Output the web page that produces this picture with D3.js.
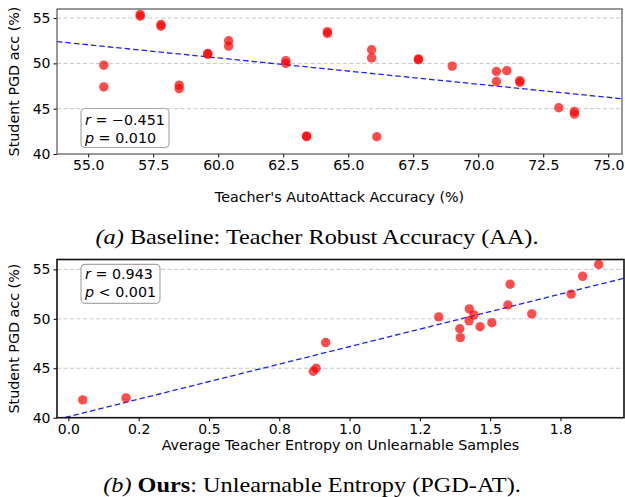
<!DOCTYPE html>
<html>
<head>
<meta charset="utf-8">
<script src="https://cdn.jsdelivr.net/npm/d3@7"></script>
<style>
  body { margin: 0; background: #fff; }
  svg text { font-family: "DejaVu Sans", sans-serif; }
</style>
</head>
<body>
<div id="chart"></div>
<script>
// panel (a): teacher AA accuracy vs student PGD acc
const aaX = [55.6, 55.6, 57.0, 57.0, 57.8, 57.8, 58.5, 58.5, 59.6, 59.6, 60.4, 60.4,
             62.6, 62.6, 63.4, 63.4, 64.2, 64.2, 65.9, 65.9, 66.1, 67.7, 67.7, 69.0,
             70.7, 70.7, 71.1, 71.6, 71.6, 73.1, 73.7, 73.7]
const aaY = [49.8, 47.4, 55.4, 55.2, 54.3, 54.1, 47.6, 47.2, 51.0, 51.1, 52.5, 51.9,
             50.3, 50.0, 42.0, 41.9, 53.5, 53.3, 51.5, 50.6, 41.9, 50.5, 50.4, 49.7,
             49.1, 48.0, 49.2, 48.1, 47.9, 45.1, 44.7, 44.4]
const aaXTicks = [55, 57.5, 60, 62.5, 65, 67.5, 70, 72.5, 75]
const aaXTickLabels = ['55.0', '57.5', '60.0', '62.5', '65.0', '67.5', '70.0', '72.5', '75.0']

// panel (b): unlearnable entropy vs student PGD acc
const entX = [0.051, 0.205, 0.871, 0.881, 0.915, 1.317, 1.392, 1.394, 1.426, 1.425,
              1.442, 1.464, 1.506, 1.563, 1.571, 1.648, 1.788, 1.829, 1.886]
const entY = [41.8, 42.0, 44.7, 45.0, 47.6, 50.2, 49.0, 48.1, 51.0, 49.8,
              50.4, 49.2, 49.6, 51.4, 53.5, 50.5, 52.5, 54.3, 55.5]
const entXTicks = [0, 0.25, 0.5, 0.75, 1.0, 1.25, 1.5, 1.75]
const entXTickLabels = ['0.0', '0.2', '0.5', '0.8', '1.0', '1.2', '1.5', '1.8']

const yTicks = [40, 45, 50, 55]
const yTickLabels = ['40', '45', '50', '55']

const width = 625, height = 497
const svg = d3.select('#chart').append('svg')
    .attr('width', width).attr('height', height)

// least squares fit
function fit(xs, ys) {
  const mx = d3.mean(xs), my = d3.mean(ys)
  let sxy = 0, sxx = 0
  xs.forEach((x, i) => { sxy += (x - mx) * (ys[i] - my); sxx += (x - mx) * (x - mx) })
  const b = sxy / sxx
  return { b: b, a: my - b * mx }
}

function panel(o) {
  const g = svg.append('g').attr('transform', `translate(${o.left},${o.top})`)
  const w = o.w, h = o.h
  const x = d3.scaleLinear().domain(o.xDomain).range([0, w])
  const y = d3.scaleLinear().domain([40, 56]).range([h, 0])

  // grid
  g.selectAll('.grid').data(yTicks.slice(1)).join('line')
    .attr('x1', 0).attr('x2', w)
    .attr('y1', d => y(d)).attr('y2', d => y(d))
    .attr('stroke', '#c8c8c8').attr('stroke-width', 1)
    .attr('stroke-dasharray', '4,2.5')

  // fit line
  const f = fit(o.xs, o.ys)
  const clip = 'clip' + o.id
  g.append('clipPath').attr('id', clip).append('rect').attr('width', w).attr('height', h)
  g.append('line')
    .attr('clip-path', `url(#${clip})`)
    .attr('x1', x(o.xDomain[0])).attr('y1', y(f.a + f.b * o.xDomain[0]))
    .attr('x2', x(o.xDomain[1])).attr('y2', y(f.a + f.b * o.xDomain[1]))
    .attr('stroke', '#2020ff').attr('stroke-width', 1.3)
    .attr('stroke-dasharray', '5.5,3')

  // points
  g.selectAll('circle').data(o.xs).join('circle')
    .attr('cx', d => x(d))
    .attr('cy', (d, i) => y(o.ys[i]))
    .attr('r', 4.7)
    .attr('fill', '#ff0000').attr('fill-opacity', 0.7)

  // axes
  const xAxis = d3.axisBottom(x).tickValues(o.xTicks)
    .tickFormat((d, i) => o.xTickLabels[i]).tickSize(3.5).tickPadding(3)
  const yAxis = d3.axisLeft(y).tickValues(yTicks)
    .tickFormat((d, i) => yTickLabels[i]).tickSize(3.5).tickPadding(3)
  const gx = g.append('g').attr('transform', `translate(0,${h})`).call(xAxis)
  const gy = g.append('g').call(yAxis)
  ;[gx, gy].forEach(a => {
    a.select('.domain').remove()
    a.selectAll('text').attr('font-size', 14).attr('fill', '#000')
      .style('font-family', '"DejaVu Sans", sans-serif')
    a.selectAll('line').attr('stroke', '#000')
  })

  // frame
  g.append('rect').attr('width', w).attr('height', h)
    .attr('fill', 'none').attr('stroke', o.frame).attr('stroke-width', o.frameW)

  // labels
  g.append('text')
    .attr('x', w / 2).attr('y', h + o.xLabelDy)
    .attr('text-anchor', 'middle').attr('font-size', 14.3)
    .text(o.xLabel)
  g.append('text')
    .attr('transform', `translate(${-38},${h / 2}) rotate(-90)`)
    .attr('text-anchor', 'middle').attr('font-size', 14.3)
    .text('Student PGD acc (%)')

  // stats box
  const bx = o.box
  g.append('rect')
    .attr('x', bx.x).attr('y', bx.y).attr('width', bx.w).attr('height', bx.h)
    .attr('rx', 4).attr('fill', '#fff').attr('fill-opacity', 0.85)
    .attr('stroke', '#a8a8a8').attr('stroke-width', 1.2)
  o.stats.forEach((s, i) => {
    const t = g.append('text')
      .attr('x', bx.x + 4).attr('y', bx.y + bx.line0 + i * 18.5)
      .attr('font-size', 14.3)
    t.append('tspan').attr('font-style', 'italic').text(s[0])
    t.append('tspan').text(s[1])
  })
}

panel({
  id: 'a', left: 57, top: 9, w: 565, h: 145,
  xs: aaX, ys: aaY, xDomain: [53.8, 75.53],
  xTicks: aaXTicks, xTickLabels: aaXTickLabels,
  xLabel: "Teacher's AutoAttack Accuracy (%)", xLabelDy: 48,
  frame: '#555', frameW: 1.2,
  box: { x: 24, y: 99.5, w: 88, h: 39, line0: 16 },
  stats: [['r', ' = \u22120.451'], ['p', ' = 0.010']]
})

panel({
  id: 'b', left: 57, top: 259.5, w: 567, h: 158.2,
  xs: entX, ys: entY, xDomain: [-0.0405, 1.976],
  xTicks: entXTicks, xTickLabels: entXTickLabels,
  xLabel: 'Average Teacher Entropy on Unlearnable Samples', xLabelDy: 32,
  frame: '#111', frameW: 1.6,
  box: { x: 24, y: 4.8, w: 79, h: 39, line0: 14.5 },
  stats: [['r', ' = 0.943'], ['p', ' < 0.001']]
})

// captions (slightly wide serif, like the paper's figure)
const cap = svg.append('g')
  .style('font-family', '"Liberation Serif", "Times New Roman", serif')
  .attr('font-size', 21.5)
const ca = cap.append('text').attr('transform', 'translate(317,244) scale(1.13,1)')
  .attr('text-anchor', 'middle')
  .style('font-family', '"Liberation Serif", serif')
ca.append('tspan').attr('font-style', 'italic').text('(a)')
ca.append('tspan').text(' Baseline: Teacher Robust Accuracy (AA).')
const cb = cap.append('text').attr('transform', 'translate(312,492) scale(1.13,1)')
  .attr('text-anchor', 'middle')
  .style('font-family', '"Liberation Serif", serif')
cb.append('tspan').attr('font-style', 'italic').text('(b)')
cb.append('tspan').attr('font-weight', 'bold').text(' Ours')
cb.append('tspan').text(': Unlearnable Entropy (PGD-AT).')
</script>
</body>
</html>
